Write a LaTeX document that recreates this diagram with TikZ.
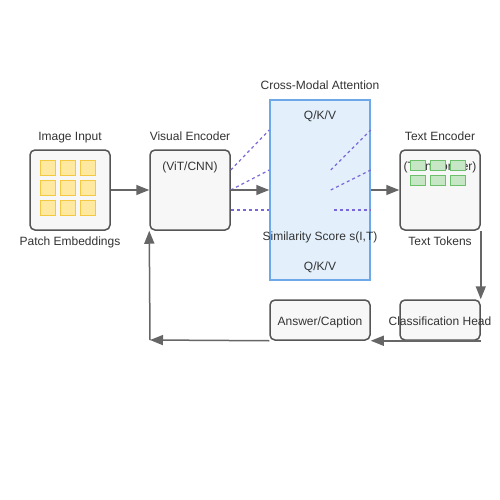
\documentclass[tikz,border=0pt]{standalone}
\usepackage{fontspec}
\setmainfont{Liberation Sans}
\usetikzlibrary{arrows.meta}

\definecolor{boxfill}{HTML}{F7F7F7}
\definecolor{boxline}{HTML}{555555}
\definecolor{txtcol}{HTML}{333333}
\definecolor{attnfill}{HTML}{E3F0FC}
\definecolor{attnline}{HTML}{6FA8E8}
\definecolor{patchfill}{HTML}{FFE8A0}
\definecolor{patchline}{HTML}{F5C842}
\definecolor{tokfill}{HTML}{C6E6C6}
\definecolor{tokline}{HTML}{6CC06C}
\definecolor{dashcol}{HTML}{7B68D8}
\definecolor{arrowcol}{HTML}{666666}

\begin{document}
\begin{tikzpicture}
[x=1pt,y=-1pt,
  font=\fontsize{12}{14}\selectfont,text=txtcol,
  boxDecorate/.style={shape=rectangle,rounded corners=5pt,draw=boxline,fill=boxfill,
    line width=1.5pt,minimum width=80pt,minimum height=80pt,inner sep=0pt},%
  smallBox/.style={boxDecorate,minimum width=100pt,minimum height=40pt},%
  attnDecorate/.style={shape=rectangle,draw=attnline,fill=attnfill,line width=1.5pt,
    minimum width=100pt,minimum height=180pt,inner sep=0pt},%
  labelDecorate/.style={inner sep=0pt,anchor=base},%
  lineDecorate/.style={-{Triangle[length=13pt,width=10pt]},draw=arrowcol,line width=1.5pt},%
  dashDecorate/.style={draw=dashcol,dashed,line width=1.2pt}]
\useasboundingbox[fill=white] (0,0) rectangle (500,500);
%% boxes
\node (image) at (70,190) [boxDecorate] {};
\node (visual) at (190,190) [boxDecorate] {};
\node (attn) at (320,190) [attnDecorate] {};
\node (text) at (440,190) [boxDecorate] {};
\node (answer) at (320,320) [smallBox] {};
\node (cls) at (440,320) [smallBox,minimum width=80pt] {};
%% labels (baselines)
\foreach \nodename/\x/\y/\txt in {
  imagelabel/70/140/{Image Input}, patchlabel/70/245/{Patch Embeddings},
  visuallabel/190/140/{Visual Encoder}, vitlabel/190/170/{(ViT/CNN)},
  attnlabel/320/90/{Cross-Modal Attention}, qkvtop/320/120/{Q/K/V},
  simlabel/320/240/{Similarity Score s(I,T)}, qkvbottom/320/270/{Q/K/V},
  textlabel/440/140/{Text Encoder}, translabel/440/170/{(Transformer)},
  toklabel/440/245/{Text Tokens}, answerlabel/320/325/{Answer/Caption},
  clslabel/440/325/{Classification Head}}
{
  \node (\nodename) at (\x,\y) [labelDecorate] {\txt};
}
%% patches and tokens
\foreach \x in {40,60,80}
  \foreach \y in {160,180,200}
    \draw[fill=patchfill,draw=patchline,line width=1pt] (\x,\y) rectangle ++(15,15);
\foreach \x in {410,430,450}
  \foreach \y in {160,175}
    \draw[fill=tokfill,draw=tokline,line width=1pt] (\x,\y) rectangle ++(15,10);
%% dashed attention lines
\draw[dashDecorate] ([yshift=20pt]visual.east) -- ([yshift=60pt]attn.west);
\draw[dashDecorate] (visual.east) -- ([yshift=20pt]attn.west);
\draw[dashDecorate] ([yshift=-20pt]visual.east) -- ([yshift=-20pt]attn.west);
\draw[dashDecorate] ([xshift=-40pt,yshift=20pt]attn.east) -- ([yshift=60pt]attn.east);
\draw[dashDecorate] ([xshift=-40pt]attn.east) -- ([yshift=20pt]attn.east);
\draw[dashDecorate] ([xshift=-37pt,yshift=-20pt]attn.east) -- ([yshift=-20pt]attn.east);
%% arrows
\coordinate (loop) at (150,340);
\path
\foreach \startnode/\endnode in {
  image.east/visual.west, visual.east/attn.west, attn.east/text.west,
  text.south east/cls.north east, cls.south east/answer.south east,
  answer.south west/loop, loop/visual.south west}
{
  (\startnode) edge[lineDecorate] (\endnode)
};
\end{tikzpicture}
\end{document}
